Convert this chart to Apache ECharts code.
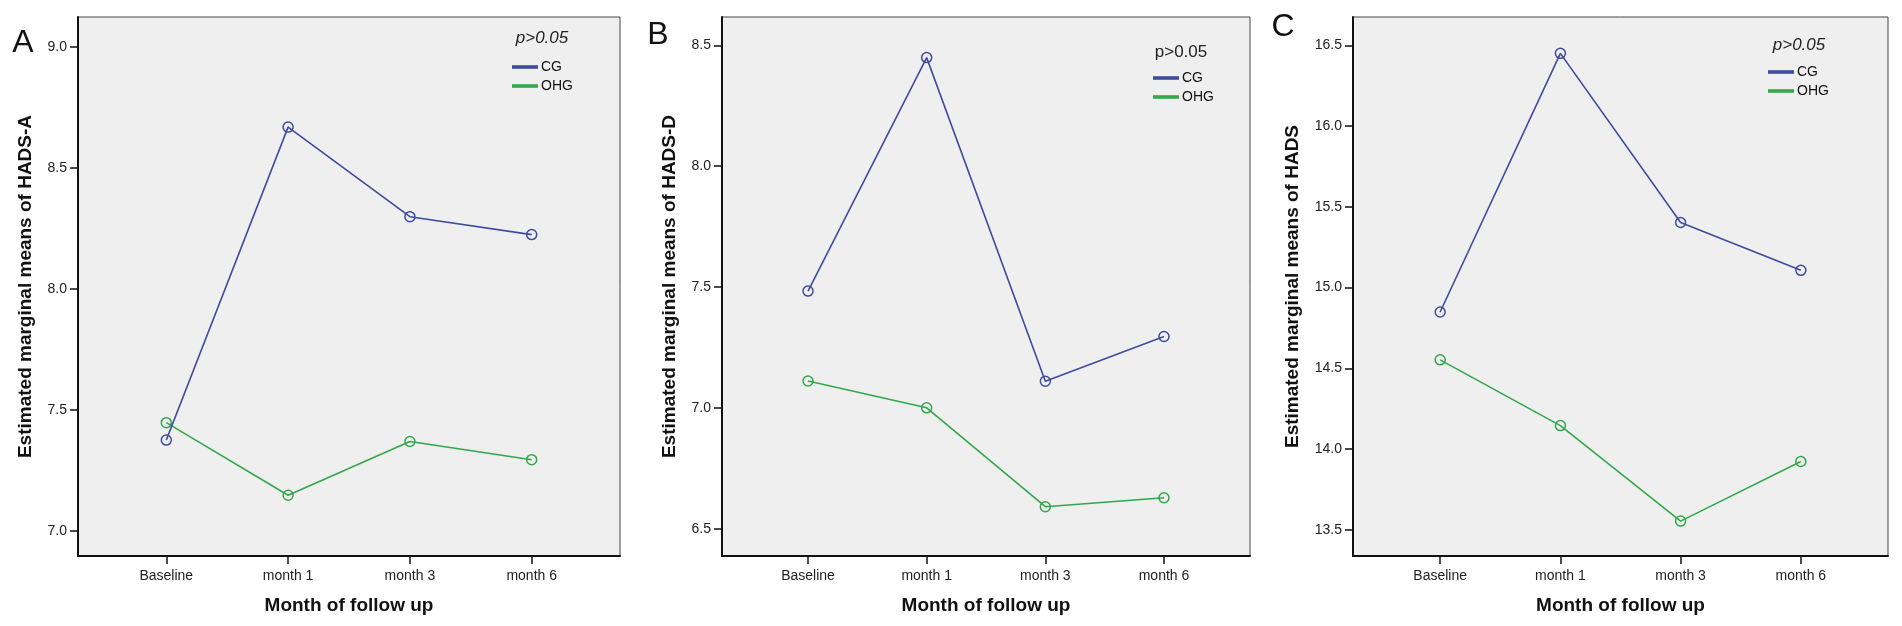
<!DOCTYPE html>
<html>
<head>
<meta charset="utf-8">
<title>HADS estimated marginal means</title>
<script src="https://cdn.jsdelivr.net/npm/echarts@6.0.0/dist/echarts.min.js"></script>
<style>
  html, body { margin: 0; padding: 0; background: #fff; }
  #chart { width: 1902px; height: 626px; }
</style>
</head>
<body>
<div id="chart"></div>
<script>
// follow-up points (x axis)
var months = ['Baseline', 'month 1', 'month 3', 'month 6'];

// A: HADS-A
var hadsA_CG = [7.376, 8.669, 8.299, 8.225];
var hadsA_OHG = [7.448, 7.148, 7.370, 7.295];
var ticksA = [7.0, 7.5, 8.0, 8.5, 9.0];

// B: HADS-D
var hadsD_CG = [7.483, 8.449, 7.110, 7.295];
var hadsD_OHG = [7.111, 7.000, 6.591, 6.628];
var ticksB = [6.5, 7.0, 7.5, 8.0, 8.5];

// C: HADS total
var hads_CG = [14.849, 16.450, 15.403, 15.107];
var hads_OHG = [14.553, 14.146, 13.555, 13.924];
var ticksC = [13.5, 14.0, 14.5, 15.0, 15.5, 16.0, 16.5];

var FONT = 'Liberation Sans';
var BLUE = '#3f4b9e';
var GREEN = '#33a84a';

var panels = [
  { letter: 'A', left: 78, width: 542, min: 6.897, max: 9.124, ticks: ticksA,
    title: 'Estimated marginal means of HADS-A', nameGap: 43,
    cg: hadsA_CG, ohg: hadsA_OHG,
    letterPos: [23, 43], pPos: [542, 38], pItalic: true, legendPos: [512, 60] },
  { letter: 'B', left: 722, width: 528, min: 6.387, max: 8.617, ticks: ticksB,
    title: 'Estimated marginal means of HADS-D', nameGap: 43,
    cg: hadsD_CG, ohg: hadsD_OHG,
    letterPos: [658, 35], pPos: [1181, 52], pItalic: false, legendPos: [1153, 71] },
  { letter: 'C', left: 1353, width: 535, min: 13.339, max: 16.675, ticks: ticksC,
    title: 'Estimated marginal means of HADS', nameGap: 51,
    cg: hads_CG, ohg: hads_OHG,
    letterPos: [1283, 27], pPos: [1799, 45], pItalic: true, legendPos: [1768, 65] }
];

var idx = months.map(function (m, i) { return i; });

function pairs(vals) {
  return vals.map(function (v, i) { return [i, v]; });
}

function lineSeries(name, vals, color, k) {
  return {
    name: name,
    type: 'line',
    xAxisIndex: k,
    yAxisIndex: k,
    data: pairs(vals),
    symbol: 'circle',
    symbolSize: 10,
    lineStyle: { color: color, width: 1.6 },
    itemStyle: { color: 'rgba(0,0,0,0)', borderColor: color, borderWidth: 1.5 },
    emphasis: { disabled: true },
    z: name === 'CG' ? 3 : 2
  };
}

var grids = [], xAxes = [], yAxes = [], series = [], legends = [], graphics = [];

panels.forEach(function (p, k) {
  grids.push({
    left: p.left, top: 17, width: p.width, height: 539,
    show: true, backgroundColor: '#efefef', borderColor: '#444', borderWidth: 1
  });

  xAxes.push({
    type: 'value', gridIndex: k, min: -0.725, max: 3.725,
    name: 'Month of follow up', nameLocation: 'middle', nameGap: 40,
    nameTextStyle: { fontFamily: FONT, fontSize: 19, fontWeight: 'bold', color: '#111' },
    axisLine: { onZero: false, lineStyle: { color: '#111', width: 2 } },
    axisTick: { customValues: idx, length: 8, lineStyle: { color: '#111', width: 1.5 } },
    axisLabel: {
      customValues: idx, margin: 13, fontFamily: FONT, fontSize: 14, color: '#222',
      formatter: function (v) { return months[v]; }
    },
    splitLine: { show: false }
  });

  yAxes.push({
    type: 'value', gridIndex: k, min: p.min, max: p.max,
    name: p.title, nameLocation: 'middle', nameGap: p.nameGap, nameRotate: 90,
    nameTextStyle: { fontFamily: FONT, fontSize: 19, fontWeight: 'bold', color: '#111' },
    axisLine: { show: true, onZero: false, lineStyle: { color: '#111', width: 2 } },
    axisTick: { show: true, customValues: p.ticks, length: 8, lineStyle: { color: '#111', width: 1.5 } },
    axisLabel: {
      customValues: p.ticks, margin: 11, fontFamily: FONT, fontSize: 14, color: '#222',
      formatter: function (v) { return v.toFixed(1); }
    },
    splitLine: { show: false }
  });

  series.push(lineSeries('OHG', p.ohg, GREEN, k));
  series.push(lineSeries('CG', p.cg, BLUE, k));

  legends.push({
    left: p.legendPos[0], top: p.legendPos[1], orient: 'vertical', padding: 0,
    icon: 'path://M0 0H24V1.6H0Z', itemWidth: 24, itemHeight: 14, itemGap: 5,
    selectedMode: false,
    textStyle: { fontFamily: FONT, fontSize: 14, color: '#111', padding: [0, 0, 0, -1] },
    data: [
      { name: 'CG', itemStyle: { color: BLUE } },
      { name: 'OHG', itemStyle: { color: GREEN } }
    ]
  });

  // panel letter
  graphics.push({
    type: 'text', x: p.letterPos[0], y: p.letterPos[1],
    style: { text: p.letter, fontFamily: FONT, fontSize: 32, fill: '#111',
      align: 'center', verticalAlign: 'middle' }
  });
  // significance note
  graphics.push({
    type: 'text', x: p.pPos[0], y: p.pPos[1],
    style: { text: 'p>0.05', fontFamily: FONT, fontSize: 17, fill: '#222',
      fontStyle: p.pItalic ? 'italic' : 'normal', align: 'center', verticalAlign: 'middle' }
  });
});

var myChart = echarts.init(document.getElementById('chart'));
myChart.setOption({
  animation: false,
  backgroundColor: '#fff',
  grid: grids,
  xAxis: xAxes,
  yAxis: yAxes,
  legend: legends,
  graphic: graphics,
  series: series
});
</script>
</body>
</html>
